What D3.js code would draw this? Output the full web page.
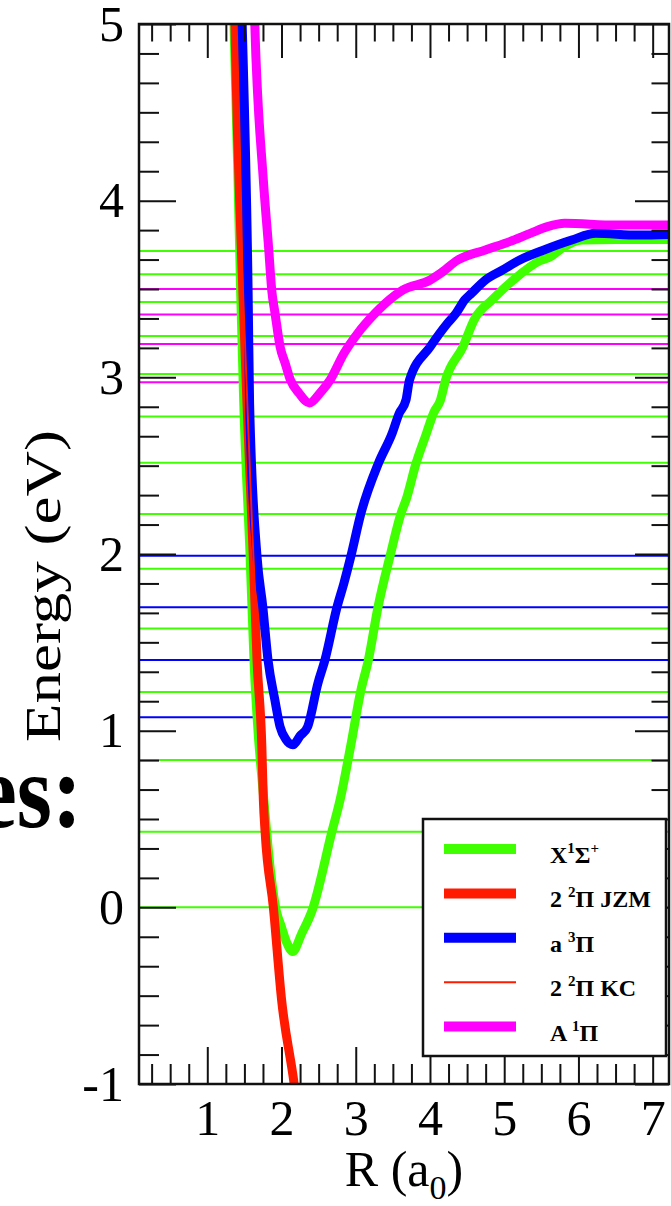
<!DOCTYPE html>
<html>
<head>
<meta charset="utf-8">
<script src="https://cdn.jsdelivr.net/npm/d3@7"></script>
<style>
body { margin: 0; background: #fff; }
svg { display: block; }
</style>
</head>
<body>
<script>
// potential curves, [R (a0), E (eV)]
var groundX = [[1.33,5.3],[1.36,5.0],[1.45,3.48],[1.49,2.87],[1.577,1.985],[1.632,1.37],[1.68,1.02],
  [1.76,0.62],[1.84,0.25],[1.93,-0.02],[1.99,-0.1],[2.07,-0.2],[2.15,-0.25],[2.27,-0.15],[2.41,-0.02],
  [2.68,0.43],[2.79,0.61],[2.93,0.91],[3.07,1.23],[3.17,1.40],[3.30,1.70],[3.46,1.985],[3.61,2.23],
  [3.68,2.31],[3.81,2.51],[3.95,2.68],[4.05,2.80],[4.14,2.87],[4.21,2.985],[4.44,3.17],[4.60,3.33],
  [4.84,3.44],[5.12,3.55],[5.48,3.66],[5.61,3.68],[5.81,3.74],[6.04,3.777],[6.5,3.78],[7.3,3.78]];
var jzmPi = [[1.36,5.3],[1.373,5.0],[1.48,3.48],[1.535,2.85],[1.62,1.985],[1.67,1.40],[1.735,0.91],
  [1.755,0.61],[1.78,0.42],[1.89,0.0],[2.0,-0.52],[2.17,-1.0],[2.2,-1.1]];
var kcPi = [[1.37,5.3],[1.38,5.0],[1.48,3.5],[1.62,2.0],[1.73,1.0],[1.89,0.0],[2.0,-0.5],[2.17,-1.0]];
var tripletA = [[1.45,5.3],[1.47,5.0],[1.55,3.48],[1.57,2.85],[1.67,1.985],[1.748,1.70],[1.818,1.40],
  [1.91,1.175],[1.98,1.023],[2.06,0.95],[2.153,0.92],[2.25,0.97],[2.353,1.023],[2.49,1.268],
  [2.585,1.40],[2.748,1.70],[2.84,1.834],[2.933,1.985],[3.07,2.23],[3.305,2.513],[3.49,2.683],
  [3.585,2.796],[3.677,2.872],[3.724,2.985],[4.003,3.173],[4.236,3.306],[4.35,3.362],[4.468,3.438],
  [4.56,3.476],[4.747,3.551],[4.98,3.608],[5.21,3.664],[5.536,3.721],[5.909,3.777],[6.234,3.815],
  [6.8,3.805],[7.3,3.81]];
var singletA = [[1.62,5.3],[1.64,5.0],[1.755,4.117],[1.825,3.74],[1.868,3.494],[1.913,3.362],
  [1.981,3.173],[2.05,3.079],[2.12,2.985],[2.237,2.91],[2.376,2.855],[2.516,2.91],[2.655,2.985],
  [2.842,3.136],[3.026,3.249],[3.259,3.362],[3.398,3.419],[3.632,3.494],[4.003,3.551],[4.143,3.589],
  [4.375,3.664],[4.747,3.721],[5.073,3.768],[5.352,3.815],[5.583,3.853],[5.816,3.872],[6.5,3.862],[7.3,3.862]];

// vibrational levels (eV)
var levelsX = [0.0, 0.428, 0.834, 1.219, 1.579, 1.917, 2.226, 2.517, 2.779, 3.019, 3.234, 3.426, 3.583, 3.715];
var levelsTriplet = [1.076, 1.40, 1.698, 1.99];
var levelsSinglet = [2.972, 3.189, 3.355, 3.5];

var xTicks = [1, 2, 3, 4, 5, 6, 7];
var yTicks = [-1, 0, 1, 2, 3, 4, 5];
var legendLabels = [
  [["X"], ["1", 1], ["\u03A3"], ["+", 1]],
  [["2 "], ["2", 1], ["\u03A0 JZM"]],
  [["a "], ["3", 1], ["\u03A0"]],
  [["2 "], ["2", 1], ["\u03A0 KC"]],
  [["A "], ["1", 1], ["\u03A0"]]
];

var svgWidth = 671, svgHeight = 1206;
var plotL = 139, plotR = 669, plotT = 24, plotB = 1084;
var serif = "'Liberation Serif', 'Times New Roman', serif";
var green = "#40ff00", red = "#ff1a00", blue = "#0000ff", magenta = "#ff00ff";

var svg = d3.select("body").append("svg")
    .attr("width", svgWidth)
    .attr("height", svgHeight)
    .style("background-color", "#fff");

var x = d3.scaleLinear().domain([0.08, 7.22]).range([plotL, plotR]);
var y = d3.scaleLinear().domain([-1, 5]).range([plotB, plotT]);

svg.append("clipPath").attr("id", "plotclip")
  .append("rect")
    .attr("x", plotL).attr("y", plotT)
    .attr("width", plotR - plotL).attr("height", plotB - plotT);

var plot = svg.append("g").attr("clip-path", "url(#plotclip)");

// big slide text cut off at the left
svg.append("text")
    .attr("transform", "translate(82,827) scale(1.05,1.22)")
    .attr("text-anchor", "end")
    .attr("font-family", serif)
    .attr("font-weight", "bold")
    .attr("font-size", 86)
    .text("es:");

// level lines
function levels(vals, color) {
  plot.selectAll(null).data(vals).enter().append("line")
    .attr("x1", plotL).attr("x2", plotR)
    .attr("y1", function(d) { return y(d); })
    .attr("y2", function(d) { return y(d); })
    .attr("stroke", color)
    .attr("stroke-width", 2);
}
levels(levelsX, green);
levels(levelsTriplet, blue);
levels(levelsSinglet, magenta);

var line = d3.line()
    .x(function(d) { return x(d[0]); })
    .y(function(d) { return y(d[1]); })
    .curve(d3.curveMonotoneX);

function curve(data, color, w) {
  plot.append("path")
    .datum(data)
    .attr("d", line)
    .attr("fill", "none")
    .attr("stroke", color)
    .attr("stroke-width", w)
    .attr("stroke-linejoin", "round")
    .attr("stroke-linecap", "round");
}
curve(groundX, green, 9);
curve(jzmPi, red, 9);
curve(tripletA, blue, 9);
curve(kcPi, red, 2);
curve(singletA, magenta, 9);

// frame and ticks
var xMinor = d3.range(0.25, 7.22, 0.25).filter(function(d) { return d % 1 !== 0; });
var yMinor = d3.range(1, 36).map(function(i) { return -1 + i / 6; })
  .filter(function(d) { return Math.abs(d - Math.round(d)) > 1e-6; });

function ticks(axis, tr, vals, size, labels) {
  var g = svg.append("g").attr("transform", tr)
    .call(axis.tickValues(vals).tickSize(size).tickSizeOuter(0).tickPadding(15)
      .tickFormat(labels ? function(d) { return String(d); } : ""));
  g.select(".domain").remove();
  g.selectAll(".tick line").attr("stroke", "#111").attr("stroke-width", 2);
  g.attr("font-family", serif).attr("font-size", 50);
  g.selectAll(".tick text").attr("fill", "#000");
  return g;
}
ticks(d3.axisLeft(y), "translate(" + plotL + ",0)", yMinor, -20, false);
ticks(d3.axisLeft(y), "translate(" + plotL + ",0)", yTicks, -37, true);
ticks(d3.axisRight(y), "translate(" + plotR + ",0)", yMinor, -17.5, false);
ticks(d3.axisRight(y), "translate(" + plotR + ",0)", yTicks, -34, false);
ticks(d3.axisBottom(x), "translate(0," + plotB + ")", xMinor, -20, false);
ticks(d3.axisBottom(x), "translate(0," + plotB + ")", xTicks, -37, true);
ticks(d3.axisTop(x), "translate(0," + plotT + ")", xMinor, -17.5, false);
ticks(d3.axisTop(x), "translate(0," + plotT + ")", xTicks, -34, false);

svg.append("rect")
    .attr("x", plotL).attr("y", plotT)
    .attr("width", plotR - plotL).attr("height", plotB - plotT)
    .attr("fill", "none")
    .attr("stroke", "#111")
    .attr("stroke-width", 2.5);

// axis titles
svg.append("text")
    .attr("transform", "translate(60,586) rotate(-90)")
    .attr("text-anchor", "middle")
    .attr("font-family", serif)
    .attr("font-size", 50)
    .attr("textLength", 312)
    .attr("lengthAdjust", "spacingAndGlyphs")
    .text("Energy (eV)");

var xt = svg.append("text")
    .attr("x", (plotL + plotR) / 2)
    .attr("y", 1186)
    .attr("text-anchor", "middle")
    .attr("font-family", serif)
    .attr("font-size", 50);
xt.append("tspan").text("R (a");
xt.append("tspan").attr("font-size", 34).attr("dy", 13).text("0");
xt.append("tspan").attr("dy", -13).text(")");

// legend
var legendColors = [green, red, blue, red, magenta];
var legendWidths = [10, 10, 10, 2, 10];
var legend = svg.append("g");
legend.append("rect")
    .attr("x", 423).attr("y", 819)
    .attr("width", 243).attr("height", 237)
    .attr("fill", "#fff")
    .attr("stroke", "#111")
    .attr("stroke-width", 2.5);

legendLabels.forEach(function(parts, i) {
  var ly = 849 + i * 44.4;
  legend.append("line")
    .attr("x1", 444).attr("x2", 516)
    .attr("y1", ly).attr("y2", ly)
    .attr("stroke", legendColors[i])
    .attr("stroke-width", legendWidths[i]);
  var t = legend.append("text")
    .attr("x", 550).attr("y", ly + 14)
    .attr("font-family", serif)
    .attr("font-weight", "bold")
    .attr("font-size", 24);
  var up = false;
  parts.forEach(function(p) {
    var s = t.append("tspan").text(p[0]);
    if (p[1]) {
      s.attr("font-size", 15).attr("dy", up ? 0 : -10);
      up = true;
    } else if (up) {
      s.attr("dy", 10);
      up = false;
    }
  });
});
</script>
</body>
</html>
